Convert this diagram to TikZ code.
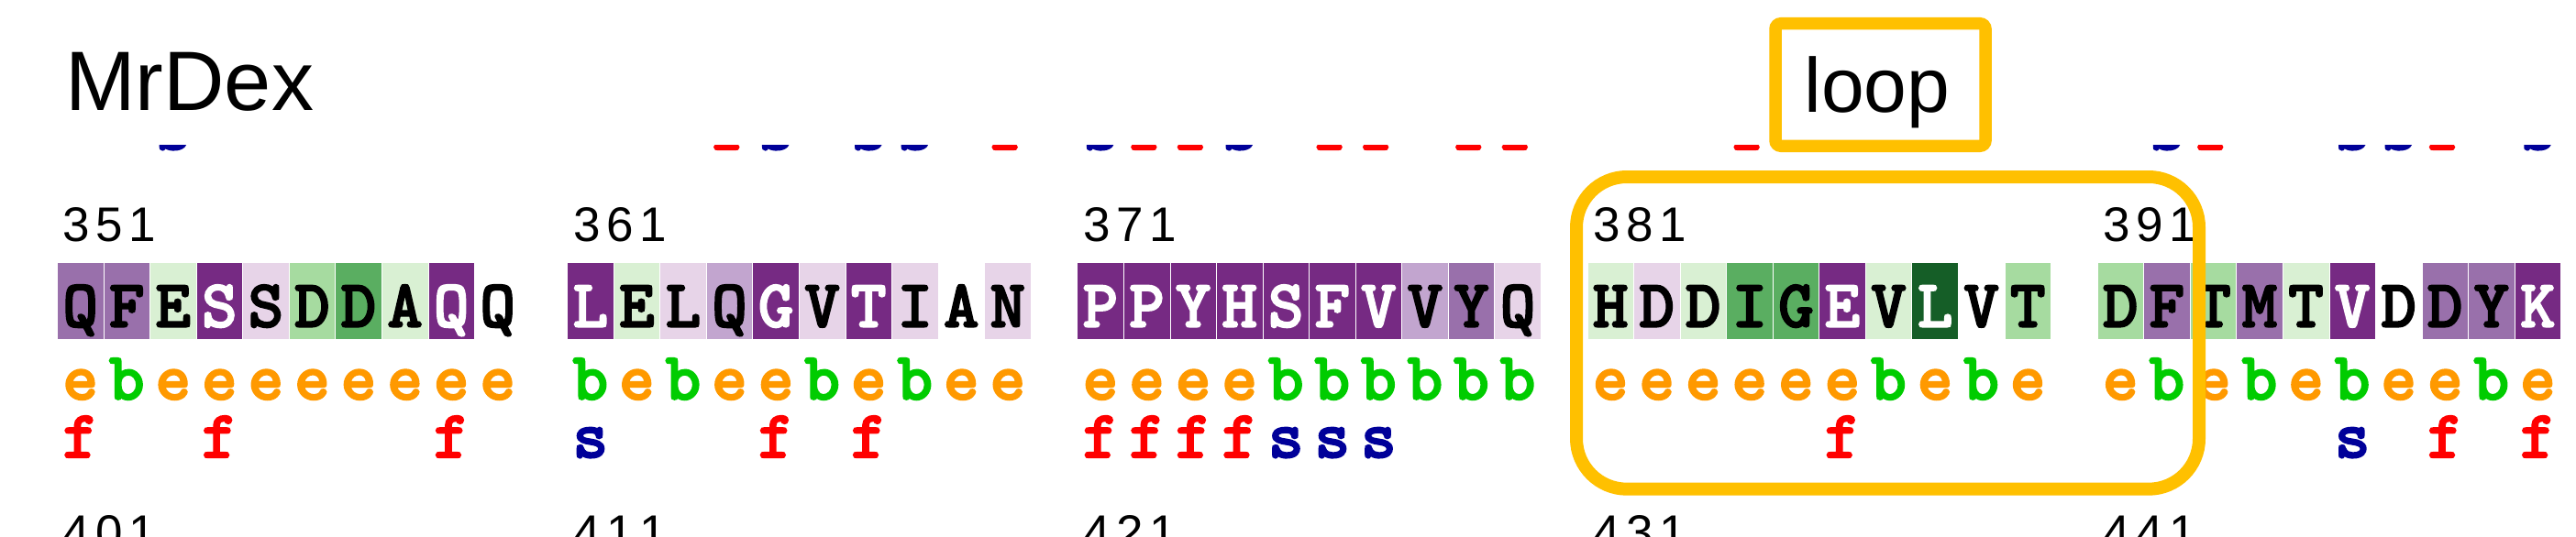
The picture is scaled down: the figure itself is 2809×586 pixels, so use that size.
\documentclass[tikz,border=0pt]{standalone}
\usepackage{fontspec}
\newfontfamily\arialf{Liberation Sans}
\newfontfamily\seqf{lmmonolt10-bold.otf}[FakeBold=2.2]
\definecolor{DP}{HTML}{762A83}
\definecolor{MP}{HTML}{9970AB}
\definecolor{LP}{HTML}{C2A5CF}
\definecolor{VP}{HTML}{E7D4E8}
\definecolor{VG}{HTML}{D9F0D3}
\definecolor{LG}{HTML}{A6DBA0}
\definecolor{MG}{HTML}{5AAE61}
\definecolor{DG}{HTML}{155E27}
\definecolor{NN}{HTML}{FFFFFF}
\definecolor{col-e}{HTML}{FF9900}
\definecolor{col-b}{HTML}{00CC00}
\definecolor{col-f}{HTML}{FF0000}
\definecolor{col-s}{HTML}{000099}
\definecolor{amber}{HTML}{FFC000}
\tikzset{
  cellbox/.style={rectangle, minimum width=50.56pt, minimum height=84pt, inner sep=0pt, draw=white, line width=0.7pt},
  seqtxt/.style={inner sep=0pt, anchor=base, font=\seqf\fontsize{74}{74}\selectfont},
  numtxt/.style={inner sep=0pt, anchor=base west, font=\arialf\fontsize{53}{53}\selectfont},
  framebox/.style={draw=amber, fill=white, inner sep=0pt},
  bigtxt/.style={inner sep=0pt, font=\arialf\fontsize{92}{92}\selectfont},
}
\def\digsA#1#2#3{\makebox[36pt]{#1}\makebox[36pt]{#2}\makebox[36pt]{#3}}
\def\digs#1{\expandafter\digsA#1}
\newcommand\seqblock[2]{%
  \foreach \ch/\cl/\tc [count=\i from 0] in {#2}{%
    \pgfmathsetmacro\cx{62.4+(11*#1+\i+0.5)*50.56}%
    \node[cellbox, fill=\cl] (c#1-\i) at (\cx,328.7) {};
    \node[seqtxt, text=\tc] (l#1-\i) at (\cx,356.7) {\ch};
  }}
\newcommand\ssblock[2]{%
  \foreach \ch [count=\i from 0] in {#2}{%
    \pgfmathsetmacro\cx{62.4+(11*#1+\i+0.5)*50.56}%
    \node[seqtxt, text=col-\ch] (ss#1-\i) at (\cx,436) {\ch};
  }}
\newcommand\markrow[3]{%
  \foreach \c/\ch in {#3}{%
    \pgfmathsetmacro\cx{62.4+(\c+0.5)*50.56}%
    \node[seqtxt, text=col-\ch] (#1\c) at (\cx,#2) {\ch};
  }}
\begin{document}
\begin{tikzpicture}[x=1pt,y=-1pt]
\useasboundingbox (0,0) rectangle (2809,586);
\clip (0,0) rectangle (2809,586);
\fill[white] (0,0) rectangle (2809,586);

% title
\node[bigtxt, anchor=base west] (title) at (71,120.7) {MrDex};

% cut-off marks of the previous row
\begin{scope}
  \clip (0,158.5) rectangle (2809,175);
  \markrow{top}{163.3}{2/s,14/f,15/s,17/s,18/s,20/f,22/s,23/f,24/f,25/s,27/f,28/f,30/f,31/f,36/f,45/s,46/f,49/s,50/s,51/f,53/s}
\end{scope}

% residue numbers
\foreach \k/\n in {0/351,1/361,2/371,3/381,4/391}{%
  \pgfmathsetmacro\nx{62.4+\k*556.16+3}%
  \node[numtxt] (na\k) at (\nx,263.3) {\digs{\n}};
}
\foreach \k/\n in {0/401,1/411,2/421,3/431,4/441}{%
  \pgfmathsetmacro\nx{62.4+\k*556.16+3}%
  \node[numtxt] (nb\k) at (\nx,599.3) {\digs{\n}};
}

% sequence blocks
\seqblock{0}{Q/MP/black,F/MP/black,E/VG/black,S/DP/white,S/VP/black,D/LG/black,D/MG/black,A/VG/black,Q/DP/white,Q/NN/black}
\seqblock{1}{L/DP/white,E/VG/black,L/VP/black,Q/LP/black,G/DP/white,V/VP/black,T/DP/white,I/VP/black,A/NN/black,N/VP/black}
\seqblock{2}{P/DP/white,P/DP/white,Y/DP/white,H/DP/white,S/DP/white,F/DP/white,V/DP/white,V/LP/black,Y/MP/black,Q/VP/black}
\seqblock{3}{H/VG/black,D/VP/black,D/VG/black,I/MG/black,G/MG/black,E/DP/white,V/VG/black,L/DG/white,V/NN/black,T/LG/black}
\seqblock{4}{D/LG/black,F/MP/black,T/LG/black,M/MP/black,T/VG/black,V/DP/white,D/NN/black,D/MP/black,Y/MP/black,K/DP/white}

% secondary-structure row
\ssblock{0}{e,b,e,e,e,e,e,e,e,e}
\ssblock{1}{b,e,b,e,e,b,e,b,e,e}
\ssblock{2}{e,e,e,e,b,b,b,b,b,b}
\ssblock{3}{e,e,e,e,e,e,b,e,b,e}
\ssblock{4}{e,b,e,b,e,b,e,e,b,e}

% f / s row
\markrow{fs}{499.3}{0/f,3/f,8/f,11/s,15/f,17/f,22/f,23/f,24/f,25/f,26/s,27/s,28/s,38/f,49/s,51/f,53/f}

% loop highlight
\node[draw=amber, line width=14pt, rounded corners=55pt, minimum width=679pt, minimum height=340.7pt, inner sep=0pt] (loopframe) at (2058.5,363.35) {};
\node[framebox, line width=13.5pt, rounded corners=6pt, minimum width=229pt, minimum height=133.5pt] (looplbl) at (2050.5,92.5) {};
\node[inner sep=0pt, anchor=base, font=\arialf\fontsize{84}{84}\selectfont] (looptxt) at (2047,122.7) {loop};
\end{tikzpicture}
\end{document}
